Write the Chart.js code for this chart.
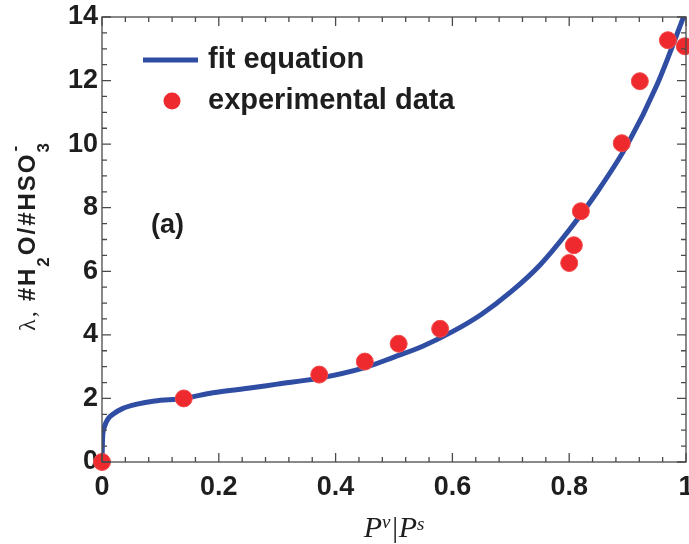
<!DOCTYPE html>
<html>
<head>
<meta charset="utf-8">
<script src="https://cdn.jsdelivr.net/npm/chart.js@4"></script>
<style>
  html, body { margin: 0; padding: 0; background: #fff; }
  #wrap { width: 689px; height: 544px; }
</style>
</head>
<body>
<div id="wrap"><canvas id="isotherm" width="689" height="544"></canvas></div>
<script>
// Fit curve
const fitX = [0, 0.001, 0.004, 0.01, 0.02, 0.035, 0.06, 0.09, 0.14, 0.19, 0.25, 0.3, 0.37, 0.45, 0.5, 0.55, 0.6, 0.65, 0.7, 0.75, 0.8, 0.85, 0.9, 0.95, 1.0];
const fitY = [0, 0.75, 1.1, 1.35, 1.52, 1.68, 1.82, 1.92, 2.0, 2.18, 2.32, 2.45, 2.63, 2.97, 3.3, 3.65, 4.1, 4.65, 5.35, 6.2, 7.3, 8.55, 10.0, 11.85, 14.2];

// Experimental points
const expX = [0, 0.14, 0.372, 0.45, 0.508, 0.579, 0.800, 0.808, 0.820, 0.890, 0.921, 0.969, 0.998];
const expY = [0, 2.0, 2.75, 3.16, 3.72, 4.19, 6.26, 6.82, 7.89, 10.03, 11.98, 13.27, 13.08];

// Axis ticks
const xTicks = [0, 0.2, 0.4, 0.6, 0.8, 1];
const yTicks = [0, 2, 4, 6, 8, 10, 12, 14];

const seriesLabels = ['fit equation', 'experimental data'];
const panelLabel = '(a)';

const BLUE = '#2f4da3';
const RED = '#ee2a2e';
const TEXT = '#1e1e1e';
const SANS = '"Liberation Sans", Arial, sans-serif';
const SERIF = '"Liberation Serif", "Times New Roman", serif';

const toPoints = (xs, ys) => xs.map((x, i) => ({ x, y: ys[i] }));

// inward ticks on all four sides plus the frame
const frameTicks = {
    id: 'frameTicks',
    afterDatasetsDraw(chart) {
        const { ctx, chartArea: a, scales: { x, y } } = chart;
        ctx.save();
        ctx.strokeStyle = '#4a4a4a';
        ctx.lineWidth = 1.3;
        for (let i = 0; i <= 25; i++) {
            const v = i * 0.04;
            const px = x.getPixelForValue(v);
            const len = i % 5 === 0 ? 9 : 5;
            ctx.beginPath();
            ctx.moveTo(px, a.bottom); ctx.lineTo(px, a.bottom - len);
            ctx.moveTo(px, a.top); ctx.lineTo(px, a.top + len);
            ctx.stroke();
        }
        for (let i = 0; i <= 28; i++) {
            const v = i * 0.5;
            const py = y.getPixelForValue(v);
            const len = i % 4 === 0 ? 9 : 5;
            ctx.beginPath();
            ctx.moveTo(a.left, py); ctx.lineTo(a.left + len, py);
            ctx.moveTo(a.right, py); ctx.lineTo(a.right - len, py);
            ctx.stroke();
        }
        ctx.strokeRect(a.left, a.top, a.right - a.left, a.bottom - a.top);
        ctx.restore();
    }
};

// legend, panel label and the two axis titles with sub/superscripts
const annotations = {
    id: 'annotations',
    afterDraw(chart) {
        const { ctx, chartArea: a } = chart;
        ctx.save();
        ctx.fillStyle = TEXT;

        // legend
        ctx.strokeStyle = BLUE;
        ctx.lineWidth = 5;
        ctx.beginPath(); ctx.moveTo(143, 60); ctx.lineTo(198, 60); ctx.stroke();
        ctx.fillStyle = RED;
        ctx.beginPath(); ctx.arc(172, 101, 8.5, 0, Math.PI * 2); ctx.fill();
        ctx.fillStyle = TEXT;
        ctx.font = 'bold 29px ' + SANS;
        ctx.textBaseline = 'middle';
        ctx.fillText(seriesLabels[0], 208, 60);
        ctx.fillText(seriesLabels[1], 208, 101);

        // panel label
        ctx.font = 'bold 27px ' + SANS;
        ctx.fillText(panelLabel, 151, 226);

        // x title  Pv|Ps
        ctx.textBaseline = 'alphabetic';
        const xParts = [
            { t: 'P', f: 'italic 30px ' + SERIF, dy: 0 },
            { t: 'v', f: 'italic 19px ' + SERIF, dy: -9 },
            { t: '|', f: 'italic 30px ' + SERIF, dy: 0 },
            { t: 'P', f: 'italic 30px ' + SERIF, dy: 0 },
            { t: 's', f: 'italic 19px ' + SERIF, dy: -7 }
        ];
        let w = 0;
        xParts.forEach(p => { ctx.font = p.f; p.w = ctx.measureText(p.t).width; w += p.w; });
        let cx = (a.left + a.right) / 2 - w / 2;
        xParts.forEach(p => { ctx.font = p.f; ctx.fillText(p.t, cx, 537 + p.dy); cx += p.w; });

        // y title  λ, #H2O/#HSO3-
        ctx.translate(35, 236);
        ctx.rotate(-Math.PI / 2);
        ctx.letterSpacing = '2px';
        const yParts = [
            { t: 'λ, ', f: '24px ' + SERIF, dy: 0 },
            { t: '#H', f: 'bold 24px ' + SANS, dy: 0 },
            { t: '2', f: 'bold 17px ' + SANS, dy: 14 },
            { t: 'O/#HSO', f: 'bold 24px ' + SANS, dy: 0 },
            { t: '3', f: 'bold 17px ' + SANS, dy: 14 }
        ];
        w = 0;
        yParts.forEach(p => { ctx.font = p.f; p.w = ctx.measureText(p.t).width; w += p.w; });
        cx = -w / 2;
        yParts.forEach(p => { ctx.font = p.f; ctx.fillText(p.t, cx, p.dy); p.x = cx; cx += p.w; });
        ctx.font = 'bold 17px ' + SANS;
        ctx.fillText('-', yParts[4].x + 1, -15);
        ctx.restore();
    }
};

const tickFont = { family: SANS, size: 27, weight: 'bold' };

new Chart(document.getElementById('isotherm').getContext('2d'), {
    type: 'scatter',
    data: {
        datasets: [{
            label: seriesLabels[0],
            data: toPoints(fitX, fitY),
            showLine: true,
            borderColor: BLUE,
            borderWidth: 5,
            pointRadius: 0,
            cubicInterpolationMode: 'monotone',
            order: 2
        }, {
            label: seriesLabels[1],
            data: toPoints(expX, expY),
            pointRadius: 8.5,
            pointBackgroundColor: RED,
            pointBorderColor: '#f24a4a',
            pointBorderWidth: 1,
            clip: false,
            order: 1
        }]
    },
    options: {
        responsive: false,
        animation: false,
        layout: {
            autoPadding: false,
            padding: { top: 17, right: 3, left: 0, bottom: 0 }
        },
        plugins: {
            legend: { display: false },
            tooltip: { enabled: false }
        },
        scales: {
            x: {
                type: 'linear',
                min: 0,
                max: 1,
                afterBuildTicks: (s) => { s.ticks = xTicks.map(v => ({ value: v })); },
                afterFit: (s) => {
                    s.height = 82;
                    s.paddingLeft = 0;
                    s.paddingRight = 0;
                },
                ticks: {
                    font: tickFont,
                    color: TEXT,
                    padding: 9,
                    maxRotation: 0,
                    autoSkip: false,
                    callback: (v) => String(v)
                },
                grid: { display: true, drawOnChartArea: false, drawTicks: false },
                border: { display: false }
            },
            y: {
                type: 'linear',
                min: 0,
                max: 14,
                afterBuildTicks: (s) => { s.ticks = yTicks.map(v => ({ value: v })); },
                afterFit: (s) => {
                    s.width = 102;
                    s.paddingTop = 0;
                    s.paddingBottom = 0;
                },
                ticks: {
                    font: tickFont,
                    color: TEXT,
                    padding: 4,
                    autoSkip: false,
                    callback: (v) => String(v)
                },
                grid: { display: true, drawOnChartArea: false, drawTicks: false },
                border: { display: false }
            }
        }
    },
    plugins: [frameTicks, annotations]
});
</script>
</body>
</html>
